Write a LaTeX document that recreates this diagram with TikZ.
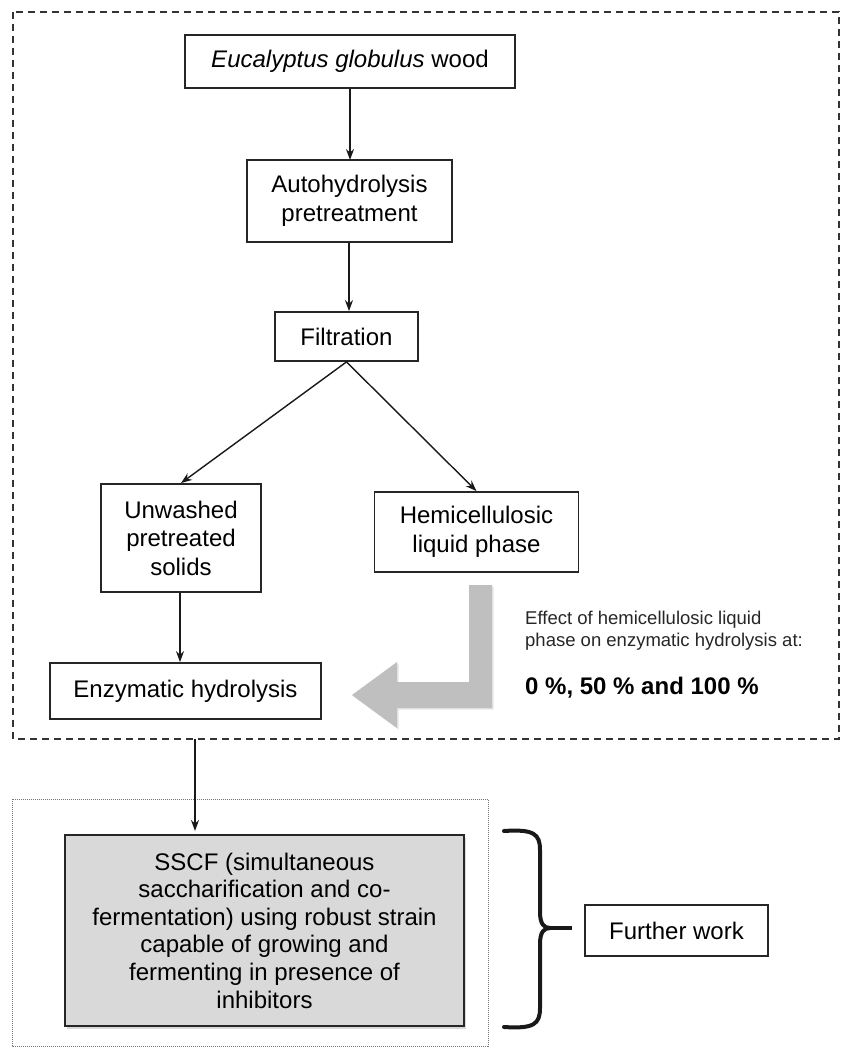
\documentclass[tikz,border=0pt]{standalone}
\usepackage{fontspec}
\setmainfont{Liberation Sans}
\usetikzlibrary{arrows.meta,shadows}
\begin{document}
\begin{tikzpicture}[x=1pt,y=-1pt,
  box/.style={draw=black!85, line width=1.8pt, fill=white, align=center, inner sep=0pt,
    text=black, font=\fontsize{24}{28.5}\selectfont},
  arr/.style={draw=black!90, line width=1.4pt, -{Stealth[length=11pt,width=8pt]}},
  note/.style={align=left, anchor=west, inner sep=0pt, text=black!85},
  bracestyle/.style={draw=black!90, line width=4pt, line cap=round}
]
\useasboundingbox (0,0) rectangle (843,1048);
\fill[white] (0,0) rectangle (843,1048);

% outer dashed frame
\draw[black!80, line width=1.9pt, dash pattern=on 7pt off 5pt] (13,12) rectangle (839,739);
% dotted frame
\draw[black!55, line width=1pt, densely dotted] (12,799) rectangle (488,1046);

% nodes
\node[box, minimum width=330, minimum height=53] (euc) at (350,61.5) {\textit{Eucalyptus globulus} wood};
\node[box, minimum width=205, minimum height=82] (auto) at (349.5,201) {Autohydrolysis\\pretreatment};
\node[box, minimum width=143, minimum height=49] (filt) at (346.5,336.5) {Filtration};
\node[box, minimum width=160, minimum height=108] (unw) at (181,538) {Unwashed\\pretreated\\solids};
\node[box, minimum width=204, minimum height=80] (hemi) at (476.5,532) {Hemicellulosic\\liquid phase};
\node[box, minimum width=271, minimum height=56] (enz) at (185.5,691) {Enzymatic hydrolysis};
\node[box, fill=gray!30, minimum width=399, minimum height=191, font=\fontsize{24}{27.6}\selectfont,
  drop shadow={shadow xshift=2pt, shadow yshift=-3pt, opacity=0.3}] (sscf) at (264.5,930.5)
  {SSCF (simultaneous\\saccharification and co-\\fermentation) using robust strain\\capable of growing and\\fermenting in presence of\\inhibitors};
\node[box, minimum width=183, minimum height=51] (fw) at (676.5,930.5) {Further work};

% notes
\node[note, font=\fontsize{18.5}{22}\selectfont] (eff) at (525,631) {Effect of hemicellulosic liquid\\phase on enzymatic hydrolysis at:};
\node[note, font=\fontsize{24}{28}\selectfont\bfseries, text=black] (pct) at (525,688) {0 \%, 50 \% and 100 \%};

% connectors
\draw[arr] (euc.south -| 350,0) -- (350,160);
\draw[arr] (auto.south -| 349,0) -- (filt.north -| 349,0);
\draw[arr] (filt.south) -- (unw.north);
\draw[arr] (filt.south) -- (hemi.north);
\draw[arr] (unw.south -| 180,0) -- (enz.north -| 180,0);
\coordinate (outB) at (195,739);
\draw[arr] (outB) -- (195,831);

% grey bent arrow
\fill[gray!50, drop shadow={shadow xshift=1.5pt, shadow yshift=-1.5pt, opacity=0.2}]
  (469,585) -- (492,585) -- (492,708) -- (397,708) -- (397,728) -- (352,695)
  -- (397,662) -- (397,682) -- (469,682) -- cycle;

% brace
\coordinate (brT) at (504,831);
\coordinate (brB) at (504,1027);
\coordinate (brM) at (550,928);
\coordinate (brTip) at (572,928);
\draw[bracestyle] (brT) .. controls (534,829) and (540,834) .. (540,850) -- (540,912)
  .. controls (540,924) and (544,928) .. (brM);
\draw[bracestyle] (brB) .. controls (534,1029) and (540,1024) .. (540,1008) -- (540,944)
  .. controls (540,932) and (544,928) .. (brM);
\draw[bracestyle, line cap=butt] (brM) -- (brTip);
\end{tikzpicture}
\end{document}
